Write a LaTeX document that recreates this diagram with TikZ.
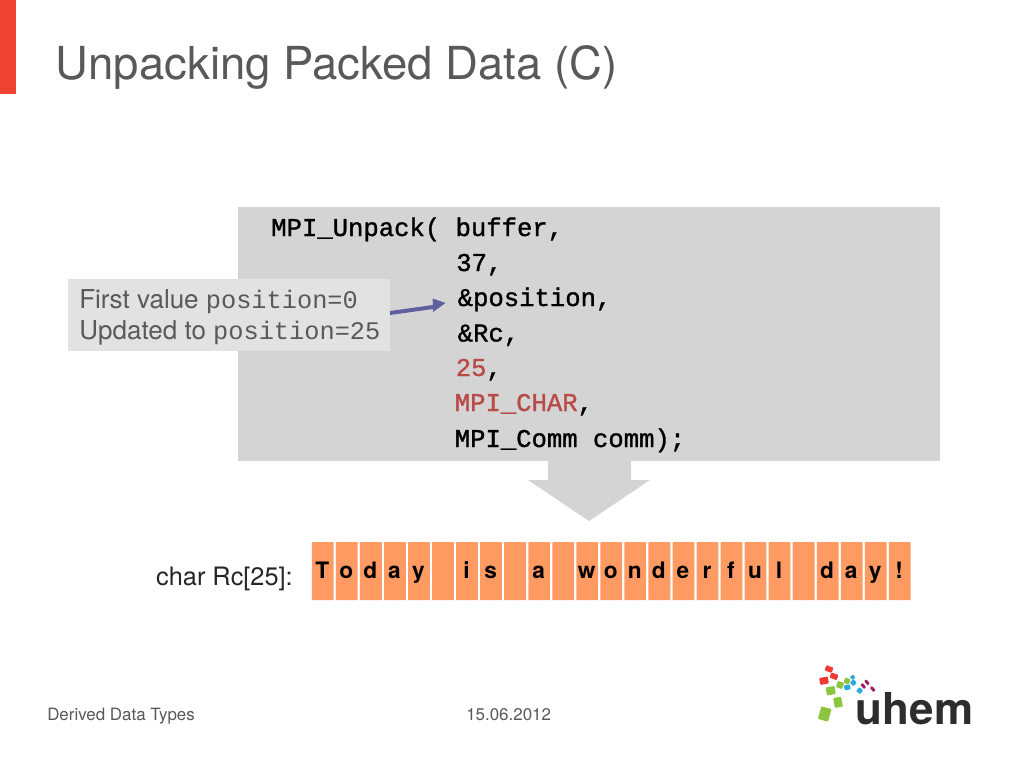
\documentclass[tikz,border=0pt]{standalone}
\usepackage{fontspec}
\setmainfont{TeX Gyre Heros}
\setmonofont{Liberation Mono}
\newfontfamily\codefont[FakeBold=1.2]{Liberation Mono}
\definecolor{titlegray}{HTML}{595959}
\definecolor{panel}{HTML}{D4D4D4}
\definecolor{labelbg}{HTML}{E2E2E2}
\definecolor{cell}{HTML}{FF9A63}
\definecolor{codered}{HTML}{B84A47}
\definecolor{arrowblue}{HTML}{5F5F9F}
\definecolor{lgreen}{HTML}{8CC63F}
\definecolor{lred}{HTML}{EE3B36}
\definecolor{lblue}{HTML}{29A9E0}
\definecolor{lplum}{HTML}{9E1F63}
\definecolor{ldark}{HTML}{2D2D2D}
\tikzset{
  x=0.75pt,y=-0.75pt,
  codeline/.style={anchor=base west,inner sep=0,font=\fontsize{19.2}{19.2}\selectfont\codefont,text=black},
  cellbox/.style={fill=cell,draw=none,minimum width=21.8*0.75pt,minimum height=58*0.75pt,inner sep=0,rounded corners=0.4pt},
  celltext/.style={anchor=base,inner sep=0,font=\fontsize{17}{17}\selectfont\bfseries,text=black},
  footer/.style={anchor=base west,inner sep=0,font=\fontsize{12.7}{13}\selectfont,text=titlegray},
  labeltext/.style={anchor=base west,inner sep=0,font=\fontsize{19.5}{20}\selectfont,text=titlegray}
}
\newcommand{\lbit}[6]{\fill[#1,rounded corners=0.6pt,rotate around={#6:(#2,#3)}] (#2-#4/2,#3-#5/2) rectangle (#2+#4/2,#3+#5/2);}
\begin{document}
\begin{tikzpicture}
\useasboundingbox (0,0) rectangle (1024,768);
\fill[white] (0,0) rectangle (1024,768);
\fill[fill=lred!90!orange] (0,0) rectangle (16,94);
\node[anchor=base west,inner sep=0,font=\fontsize{34.1}{34}\selectfont,text=titlegray] (title) at (55.5,79) {Unpacking Packed Data (C)};
% big arrow below panel
\fill[panel] (548,455) -- (631,455) -- (631,480) -- (650,480) -- (589,521) -- (528,480) -- (548,480) -- cycle;
\node[fill=panel,anchor=north west,inner sep=0,minimum width=702*0.75pt,minimum height=254*0.75pt] (panel) at (238,206.5) {};
\node[codeline] (l1) at (271,236) {MPI\_Unpack( buffer,};
\node[codeline] (l2) at (456,271) {37,};
\node[codeline] (l3) at (457.5,306) {\&position,};
\node[codeline] (l4) at (457.5,341.5) {\&Rc,};
\node[codeline] (l5) at (455.5,376) {\textcolor{codered}{25},};
\node[codeline] (l6) at (454.5,411) {\textcolor{codered}{MPI\_CHAR},};
\node[codeline] (l7) at (454.5,447) {MPI\_Comm comm);};
% label
\node[fill=labelbg,anchor=north west,inner sep=0,minimum width=322*0.75pt,minimum height=72*0.75pt] (lab) at (68,279) {};
\node[labeltext] (lab1) at (79,308) {First value \fontsize{19}{19}\selectfont\ttfamily position=0};
\node[labeltext] (lab2) at (79,339) {Updated to \fontsize{19}{19}\selectfont\ttfamily position=25};
\fill[arrowblue] (390,311) -- (433,305) -- (432.5,298.5) -- (445.5,303) -- (433,312) -- (433,309) -- (390,315) -- cycle;
% char array
\node[anchor=base east,inner sep=0,font=\fontsize{19}{20}\selectfont,text=black!85] (rc) at (293,585) {char Rc[25]:};
\foreach \i/\ch in {0/T,1/o,2/d,3/a,4/y,5/{},6/i,7/s,8/{},9/a,10/{},11/w,12/o,13/n,14/d,15/e,16/r,17/f,18/u,19/l,20/{},21/d,22/a,23/y,24/!}{
  \node[cellbox] (c\i) at (322.8+\i*24.04,571.2) {};
  \node[celltext] (t\i) at (322.3+\i*24.04,578) {\ch};
}
% footer
\node[footer] (f1) at (47,720) {Derived Data Types};
\node[footer] (f2) at (466,720) {15.06.2012};
% logo
\lbit{lred}{829}{669}{7.5}{5.5}{-20}
\lbit{lred}{834}{676.3}{7.5}{5.5}{-20}
\lbit{lred}{824}{680.7}{8.7}{7}{10}
\lbit{lgreen}{840}{685}{6.5}{6.5}{-20}
\lbit{lgreen}{847}{681}{5.5}{5.5}{-20}
\lbit{lgreen}{830.7}{690.7}{9}{8}{10}
\lbit{lgreen}{838}{702.3}{8}{10}{10}
\lbit{lgreen}{824.7}{714}{10.5}{13}{-15}
\lbit{lblue}{852.7}{677.3}{4}{4}{40}
\lbit{lblue}{853.3}{682.7}{5}{5}{40}
\lbit{lblue}{847.3}{687.3}{6}{5}{10}
\lbit{lblue}{859.7}{690.7}{5}{5}{45}
\lbit{lplum}{863.3}{686}{3}{5.5}{40}
\lbit{lplum}{867}{682.3}{3}{5.5}{40}
\lbit{lplum}{872.7}{689}{3}{5.5}{40}
\node[anchor=base west,inner sep=0,font=\fontsize{33}{33}\selectfont\bfseries,text=ldark] (uhem) at (855.5,724) {uhem};
\end{tikzpicture}
\end{document}
